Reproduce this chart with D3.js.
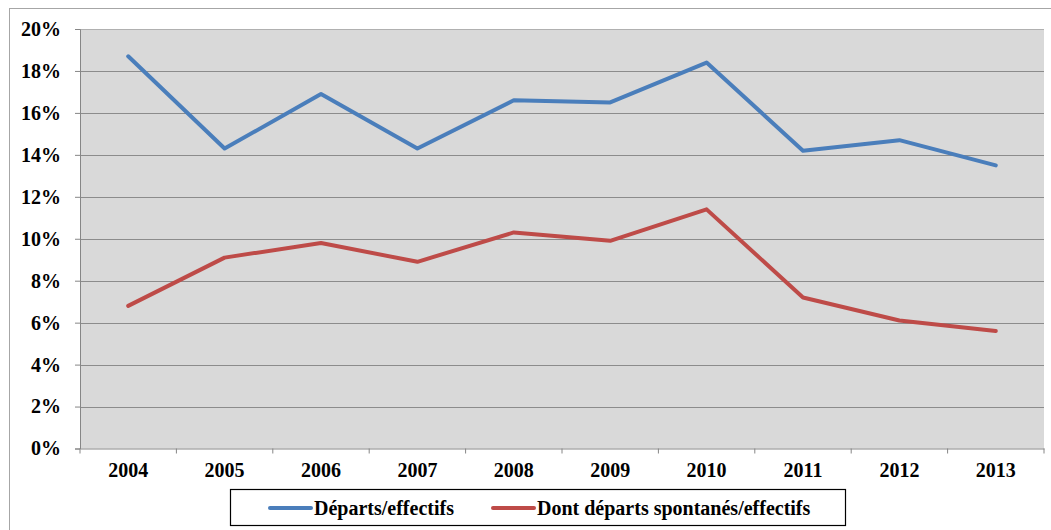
<!DOCTYPE html>
<html>
<head>
<meta charset="utf-8">
<script src="https://cdn.jsdelivr.net/npm/d3@7"></script>
<style>
body { margin: 0; background: #fff; }
</style>
</head>
<body>
<svg id="chart" width="1051" height="530"></svg>
<script>
var annees = ["2004", "2005", "2006", "2007", "2008", "2009", "2010", "2011", "2012", "2013"];
var departs = [18.7, 14.3, 16.9, 14.3, 16.6, 16.5, 18.4, 14.2, 14.7, 13.5];
var spontanes = [6.8, 9.1, 9.8, 8.9, 10.3, 9.9, 11.4, 7.2, 6.1, 5.6];
var yTicks = [0, 2, 4, 6, 8, 10, 12, 14, 16, 18, 20];
var noms = ["Départs/effectifs", "Dont départs spontanés/effectifs"];
var couleurs = ["#4a7ebb", "#be4b48"];

var police = "Liberation Serif";
var gauche = 80, droite = 1044, haut = 29, bas = 448.5;

var svg = d3.select("#chart");

// cadre exterieur
svg.append("rect")
	.attr("x", 9.5).attr("y", 8.5)
	.attr("width", 1100).attr("height", 600)
	.attr("fill", "none")
	.attr("stroke", "#a6a6a6");

var x = d3.scaleBand()
	.domain(annees)
	.range([gauche, droite]);

var y = d3.scaleLinear()
	.domain([0, 20])
	.range([bas, haut]);

svg.append("rect")
	.attr("x", gauche).attr("y", haut)
	.attr("width", droite - gauche).attr("height", bas - haut)
	.attr("fill", "#d9d9d9");

// lignes de grille
svg.append("g")
	.selectAll("line")
	.data(yTicks.slice(1))
	.enter()
	.append("line")
	.attr("x1", gauche).attr("x2", droite)
	.attr("y1", function(d){ return Math.round(y(d)) + 0.5; })
	.attr("y2", function(d){ return Math.round(y(d)) + 0.5; })
	.attr("stroke", function(d){ return d == 20 ? "#b0b0b0" : "#8c8c8c"; })
	.attr("stroke-width", 1.2);

// axe y
var axeY = svg.append("g")
	.attr("transform", "translate(" + gauche + ",0)")
	.call(d3.axisLeft(y).tickValues(yTicks).tickSize(5).tickPadding(14)
		.tickFormat(function(d){ return d + "%"; }));

// axe x
var bords = annees.map(function(a){ return x(a); }).concat([droite]);
var axeX = svg.append("g")
	.attr("transform", "translate(0," + bas + ")")
	.call(d3.axisBottom(x).tickSize(0).tickPadding(14));
axeX.selectAll(".tick-bord")
	.data(bords)
	.enter()
	.append("line")
	.attr("x1", function(d){ return d; })
	.attr("x2", function(d){ return d; })
	.attr("y1", 0).attr("y2", 5)
	.attr("stroke", "#868686");

svg.selectAll(".domain").attr("stroke", "#868686");
axeY.selectAll(".tick line").attr("stroke", "#868686");
[axeX, axeY].forEach(function(a){
	a.attr("font-family", police).attr("font-size", 20).attr("font-weight", "bold");
	a.selectAll("text").attr("fill", "#000");
});

var ligne = d3.line()
	.x(function(d, i){ return x(annees[i]) + x.bandwidth() / 2; })
	.y(function(d){ return y(d); });

[departs, spontanes].forEach(function(serie, k){
	svg.append("path")
		.datum(serie)
		.attr("d", ligne)
		.attr("fill", "none")
		.attr("stroke", couleurs[k])
		.attr("stroke-width", 4)
		.attr("stroke-linejoin", "round")
		.attr("stroke-linecap", "round");
});

// legende
var leg = svg.append("g");
leg.append("rect")
	.attr("x", 230.5).attr("y", 489.5)
	.attr("width", 615).attr("height", 36)
	.attr("fill", "#fff")
	.attr("stroke", "#000")
	.attr("stroke-width", 1.2);

var legX = [270, 493];
noms.forEach(function(n, k){
	leg.append("line")
		.attr("x1", legX[k]).attr("x2", legX[k] + 41)
		.attr("y1", 508).attr("y2", 508)
		.attr("stroke", couleurs[k])
		.attr("stroke-width", 4)
		.attr("stroke-linecap", "round");
	leg.append("text")
		.attr("x", legX[k] + 44)
		.attr("y", 508)
		.attr("dy", "0.35em")
		.attr("font-family", police)
		.attr("font-weight", "bold")
		.attr("font-size", 20)
		.text(n);
});
</script>
</body>
</html>
